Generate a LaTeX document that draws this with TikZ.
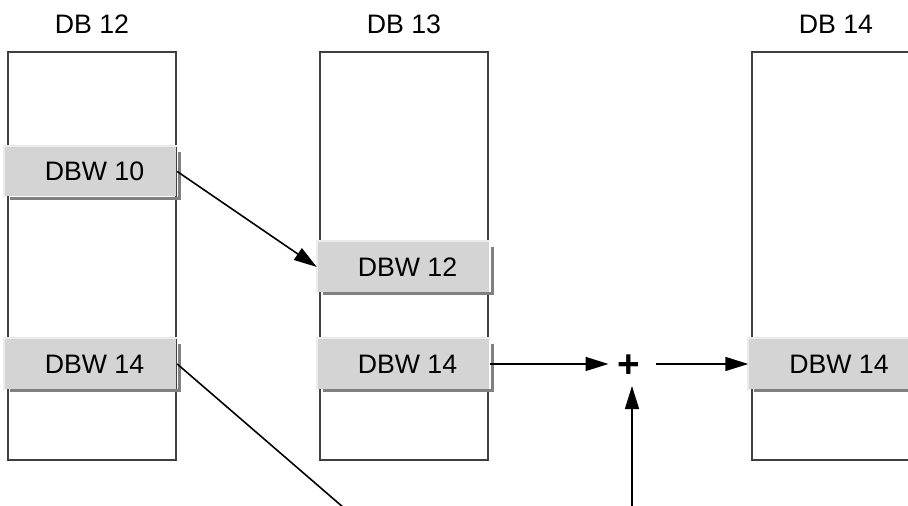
\documentclass[tikz,border=0pt]{standalone}
\usepackage{fontspec}
\setmainfont{Liberation Sans}
\usetikzlibrary{arrows.meta}
\definecolor{boxgray}{RGB}{212,212,212}
\definecolor{rimlight}{RGB}{236,236,236}
\definecolor{rimdark}{RGB}{128,128,128}
\definecolor{framegray}{RGB}{64,64,64}

\begin{document}
\begin{tikzpicture}[
  font=\fontsize{7.6}{9}\selectfont,
  dbframe/.style={draw=framegray, line width=0.45pt, minimum width=1.68cm, minimum height=4.08cm, inner sep=0pt},
  dbword/.style={fill=boxgray, minimum width=1.72cm, minimum height=0.5cm, inner sep=0pt,
    execute at begin node=\hspace*{0.08cm}},
  link/.style={line width=0.45pt, -{Triangle[length=0.23cm,width=0.14cm]}},
]
\useasboundingbox (0,0) rectangle (9.08,5.06);
\clip (0,0) rectangle (9.08,5.06);

% data blocks
\node[dbframe, label={[label distance=0.05cm]above:DB 12}] (db12) at (0.92,2.5) {};
\node[dbframe, label={[label distance=0.05cm]above:DB 13}] (db13) at (4.04,2.5) {};
\node[dbframe, label={[label distance=0.05cm]above:DB 14}] (db14) at (8.36,2.5) {};

% data words
\node[dbword] (w10) at (0.905,3.345) {DBW 10};
\node[dbword] (w14a) at (0.905,1.42) {DBW 14};
\node[dbword] (w12) at (4.035,2.39) {DBW 12};
\node[dbword] (w14b) at (4.035,1.42) {DBW 14};
\node[dbword] (w14c) at (8.35,1.42) {DBW 14};

\foreach \w in {w10,w12,w14a,w14b,w14c}{
  \draw[rimlight, line width=0.6pt] (\w.south west) -- (\w.north west) -- (\w.north east);
  \draw[rimdark, line width=0.8pt] ([shift={(0.06,-0.01)}]\w.south west) -- ([shift={(0.02,-0.01)}]\w.south east) -- ([shift={(0.02,-0.06)}]\w.north east);
}

% adder
\node[font=\fontsize{11}{12}\bfseries\selectfont, inner sep=0.08cm] (sum) at (6.285,1.40) {+};
\coordinate (feed) at (6.32,-0.1);
\coordinate (away) at (3.55,-0.115);

\draw[link] (w10.east) -- (w12.west);
\draw[line width=0.45pt] (w14a.east) -- (away);
\draw[link] (w14b.east) -- (w14b.east -| sum.west);
\draw[link, shorten <=0.08cm] (sum.east |- w14c.west) -- (w14c.west);
\draw[link] (feed) -- (feed |- sum.south);

\end{tikzpicture}
\end{document}
